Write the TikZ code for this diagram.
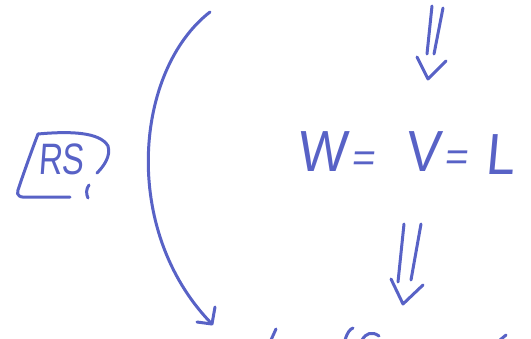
\documentclass[tikz,border=0pt]{standalone}
\usepackage{fontspec}
\newfontfamily\hand[FakeSlant=0.1]{Liberation Sans}
\definecolor{ink}{RGB}{88,98,198}
\begin{document}
\begin{tikzpicture}[x=1pt,y=-1pt,
  stroke/.style={draw=ink,line width=3pt,line cap=round,line join=round},
  txt/.style={text=ink,font=\hand,inner sep=0pt,anchor=center}]
\useasboundingbox (0,0) rectangle (531,338);
% RS box
\draw[stroke] (38,134) .. controls (70,131) and (100,132) .. (108,146)
  .. controls (111,156) and (104,166) .. (97,173);
\draw[stroke] (38,134) .. controls (30,155) and (22,178) .. (18,190)
  .. controls (16,196) and (20,198) .. (30,197) -- (70,197);
\draw[stroke] (89,185) .. controls (86,189) and (86,194) .. (88,198);
\node[txt,font=\hand\fontsize{44}{44}\selectfont,xscale=0.75] (rs) at (61,159) {RS};
% curved arrow
\coordinate (ctop) at (210,12);
\coordinate (cbot) at (212,324);
\draw[stroke] (ctop) .. controls (135,70) and (120,230) .. (cbot);
\draw[stroke] (215,307) -- (cbot) -- (197,322);
% equation
\node[txt,font=\hand\fontsize{58}{58}\selectfont,xscale=0.9] (w) at (322,152) {W};
\node[txt,font=\hand\fontsize{40}{40}\selectfont] (e1) at (363,162) {=};
\node[txt,font=\hand\fontsize{58}{58}\selectfont,xscale=0.9] (v) at (423,152) {V};
\node[txt,font=\hand\fontsize{40}{40}\selectfont] (e2) at (456,161) {=};
\node[txt,font=\hand\fontsize{58}{58}\selectfont,xscale=0.9] (l) at (500,155) {L};
% top double arrow
\coordinate (t1) at (432,6);
\coordinate (t2) at (443,8);
\coordinate (ttip) at (428,79);
\draw[stroke] (t1) -- (427,54);
\draw[stroke] (t2) -- (434,54);
\draw[stroke] (417,57) -- (ttip) -- (446,61);
% bottom double arrow
\coordinate (b1) at (404,224);
\coordinate (b2) at (421,224);
\coordinate (btip) at (403,304);
\draw[stroke] (b1) -- (398,282);
\draw[stroke] (b2) -- (411,280);
\draw[stroke] (391,279) -- (btip) -- (423,285);
% cut-off marks at bottom edge
\draw[stroke] (276,329) -- (271,340);
\draw[stroke] (345,340) .. controls (347,333) and (350,329) .. (353,328);
\draw[stroke] (362,340) .. controls (366,333) and (372,331) .. (379,336);
\draw[stroke] (500,340) -- (506,335);
\end{tikzpicture}
\end{document}
